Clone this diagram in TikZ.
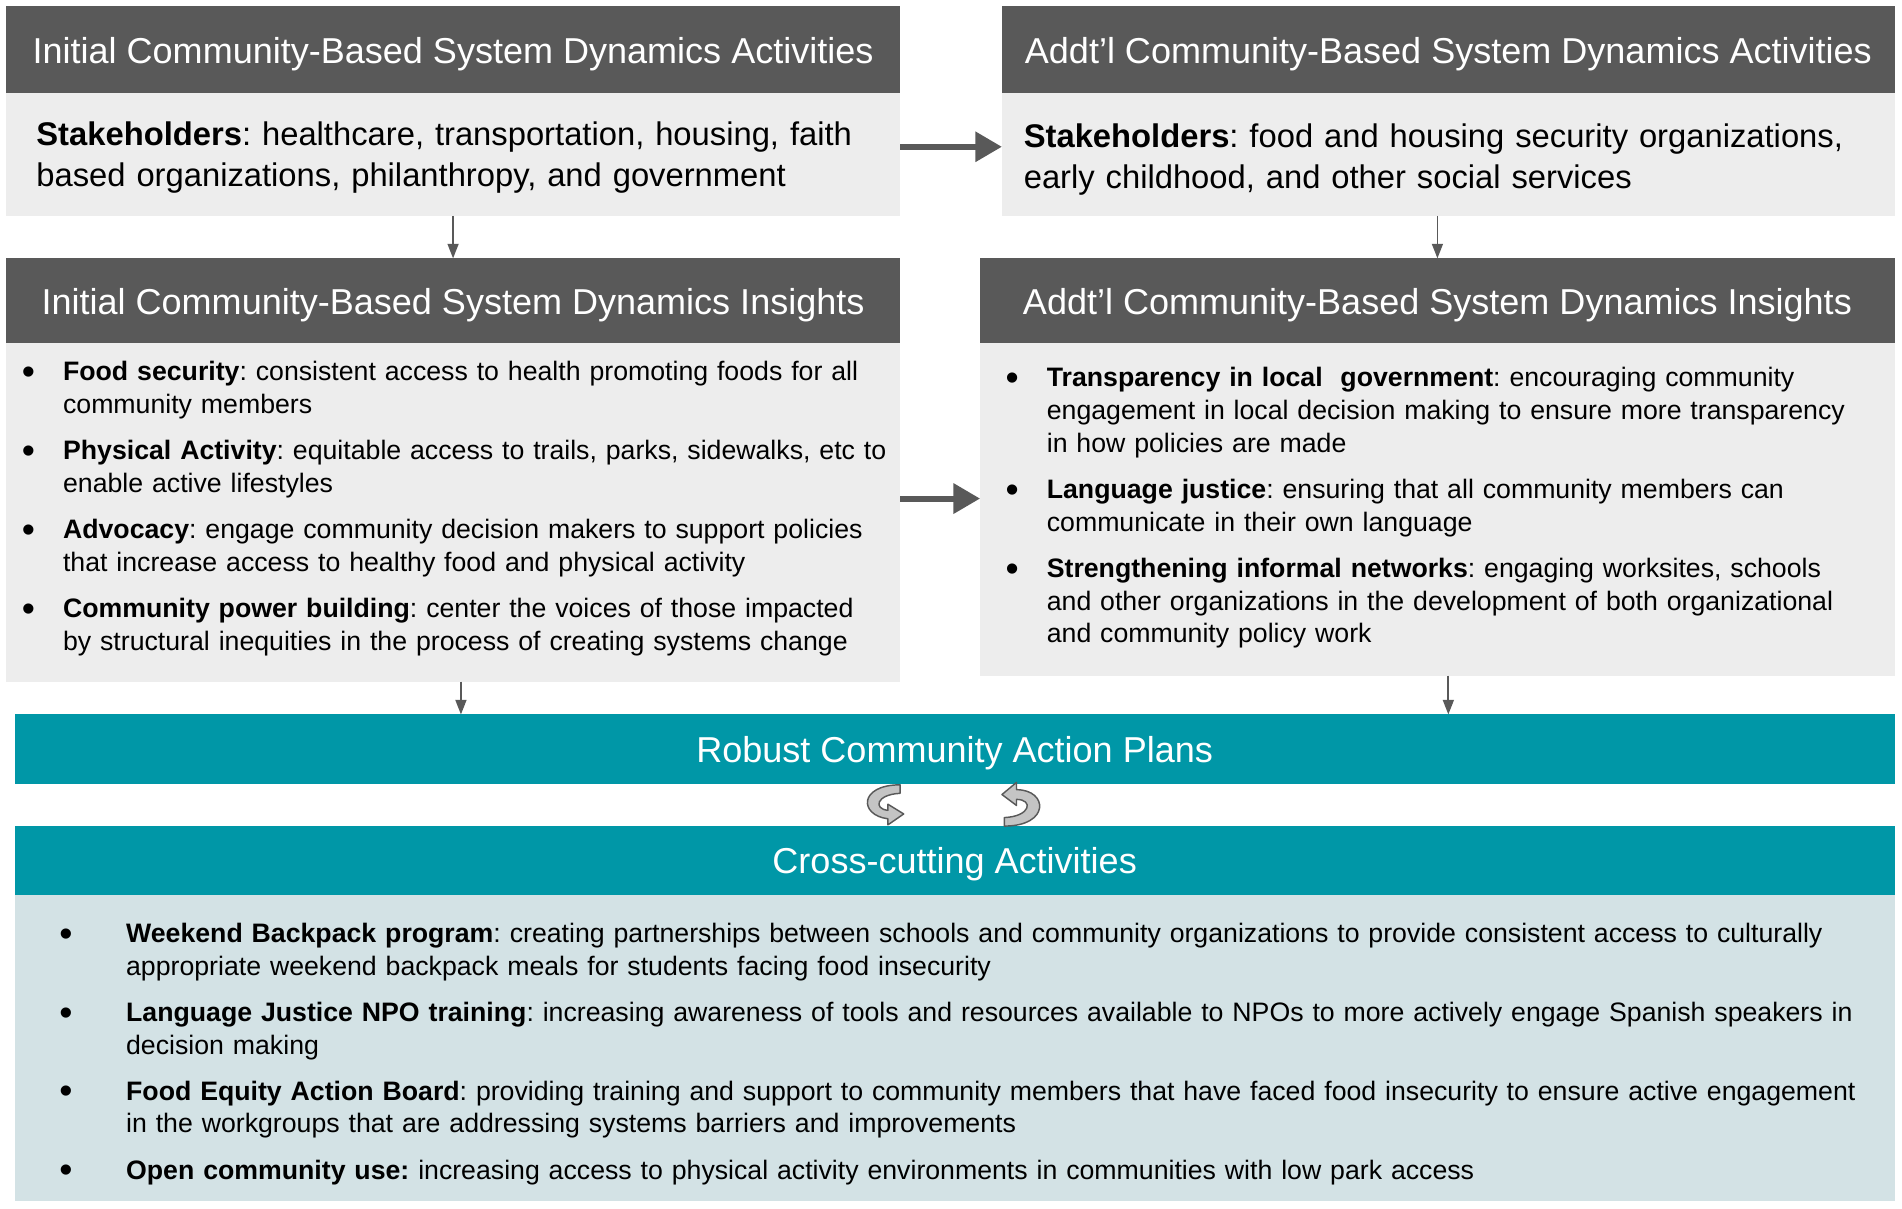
\documentclass[tikz,border=0pt]{standalone}
\usepackage{fontspec}
\setmainfont{Liberation Sans}
\usetikzlibrary{arrows.meta,positioning}
\definecolor{hdrgray}{HTML}{595959}
\definecolor{boxgray}{HTML}{EDEDED}
\definecolor{bandteal}{HTML}{0097A7}
\definecolor{paleteal}{HTML}{D3E2E5}
\definecolor{ringgray}{HTML}{C4C4C4}
\frenchspacing
\newcommand{\bul}[2][34pt]{\hangindent=#1\hangafter=1\noindent\makebox[#1][l]{\raisebox{-3pt}{\fontsize{31}{27}\selectfont\textbullet}}#2\par}
\newcommand{\itemgap}{\vspace{11pt}}
\begin{document}
\begin{tikzpicture}[x=1pt,y=-1pt,every node/.style={inner sep=0,outer sep=0},
    hdr/.style={fill=hdrgray,text=white,anchor=north west,text height=28pt,text depth=6pt,font=\fontsize{29.7}{34}\selectfont},
    band/.style={fill=bandteal,text=white,anchor=north west,minimum width=1550pt,minimum height=57pt,text height=28pt,text depth=6pt,font=\fontsize{29.7}{34}\selectfont},
    body/.style={fill=boxgray,anchor=north west},
    stake/.style={anchor=base west,text width=720pt,align=left,font=\fontsize{27}{34}\selectfont},
    list/.style={anchor=base west,align=left,font=\fontsize{22}{27}\selectfont},
    bigarrow/.style={draw=hdrgray,line width=5pt,-{Triangle[length=22pt,width=24pt]}},
    smallarrow/.style={draw=hdrgray,line width=1.5pt,-{Triangle[length=12pt,width=9pt]}},
    ring/.style={fill=ringgray,draw=hdrgray,line width=1.2pt,line join=round}]
    \useasboundingbox (0,0) rectangle (1568,996);

    % activities
    \node[hdr,minimum width=737pt,minimum height=72pt] (initHead) at (5,5) {Initial Community-Based System Dynamics Activities};
    \node[body,minimum width=737pt,minimum height=101pt] (initStake) at (5,77) {};
    \node[stake] (initStakeText) at (30,119.7) {\textbf{Stakeholders}: healthcare, transportation, housing, faith\\based organizations, philanthropy, and government};
    \node[hdr,minimum width=736pt,minimum height=72pt] (addHead) at (826,5) {Addt’l Community-Based System Dynamics Activities};
    \node[body,minimum width=736pt,minimum height=101pt] (addStake) at (826,77) {};
    \node[stake] (addStakeText) at (844,121.7) {\textbf{Stakeholders}: food and housing security organizations,\\early childhood, and other social services};

    % insights
    \node[hdr,minimum width=737pt,minimum height=70pt] (initInsHead) at (5,213) {Initial Community-Based System Dynamics Insights};
    \node[body,minimum width=737pt,minimum height=279pt] (initInsBody) at (5,283) {};
    \node[list,text width=740pt] (initList) at (18,314) {%
        \bul{\textbf{Food security}: consistent access to health promoting foods for all\newline community members}\itemgap
        \bul{\textbf{Physical Activity}: equitable access to trails, parks, sidewalks, etc to\newline enable active lifestyles}\itemgap
        \bul{\textbf{Advocacy}: engage community decision makers to support policies\newline that increase access to healthy food and physical activity}\itemgap
        \bul{\textbf{Community power building}: center the voices of those impacted\newline by structural inequities in the process of creating systems change}};
    \node[hdr,minimum width=754pt,minimum height=70pt] (addInsHead) at (808,213) {Addt’l Community-Based System Dynamics Insights};
    \node[body,minimum width=754pt,minimum height=274pt] (addInsBody) at (808,283) {};
    \node[list,text width=730pt] (addList) at (829,319) {%
        \bul{\textbf{Transparency in local\ \ government}: encouraging community\newline engagement in local decision making to ensure more transparency\newline in how policies are made}\itemgap
        \bul{\textbf{Language justice}: ensuring that all community members can\newline communicate in their own language}\itemgap
        \bul{\textbf{Strengthening informal networks}: engaging worksites, schools\newline and other organizations in the development of both organizational\newline and community policy work}};

    % plans and cross-cutting
    \node[band] (robust) at (12,589) {Robust Community Action Plans};
    \node[band] (cross) at (12,681) {Cross-cutting Activities};
    \node[body,fill=paleteal,minimum width=1550pt,minimum height=252pt] (crossBody) at (12,738) {};
    \node[list,text width=1510pt] (crossList) at (49,777) {%
        \bul[55pt]{\textbf{Weekend Backpack program}: creating partnerships between schools and community organizations to provide consistent access to culturally\newline appropriate weekend backpack meals for students facing food insecurity}\itemgap
        \bul[55pt]{\textbf{Language Justice NPO training}: increasing awareness of tools and resources available to NPOs to more actively engage Spanish speakers in\newline decision making}\itemgap
        \bul[55pt]{\textbf{Food Equity Action Board}: providing training and support to community members that have faced food insecurity to ensure active engagement\newline in the workgroups that are addressing systems barriers and improvements}\itemgap
        \bul[55pt]{\textbf{Open community use:} increasing access to physical activity environments in communities with low park access}};

    % connectors
    \draw[bigarrow] ([yshift=6.5pt]initStake.east) -- ([yshift=6.5pt]initStake.east -| addStake.west);
    \draw[bigarrow] ([yshift=11.5pt]initInsBody.east) -- ([yshift=11.5pt]initInsBody.east -| addInsBody.west);
    \draw[smallarrow] (initStake.south) -- (initInsHead.north);
    \draw[smallarrow] (addInsHead.north |- addStake.south) -- (addInsHead.north);
    \draw[smallarrow] ([xshift=6.5pt]initInsBody.south) -- ([xshift=6.5pt]initInsBody.south |- robust.north);
    \draw[smallarrow] ([xshift=9pt]addInsBody.south) -- ([xshift=9pt]addInsBody.south |- robust.north);

    % cycle arrows
    \draw[ring] (742,647) -- (742,654) .. controls (722,655) and (720,667) .. (732,668)
        -- (732,663) -- (745,671) -- (732,680) -- (732,675) .. controls (708,672) and (708,647) .. (742,647) -- cycle;
    \draw[ring] (828,674) .. controls (850,673) and (852,659) .. (838,659)
        -- (838,664) -- (826,655) -- (838,645) -- (838,651) .. controls (864,651) and (866,681) .. (828,681) -- cycle;
\end{tikzpicture}
\end{document}
